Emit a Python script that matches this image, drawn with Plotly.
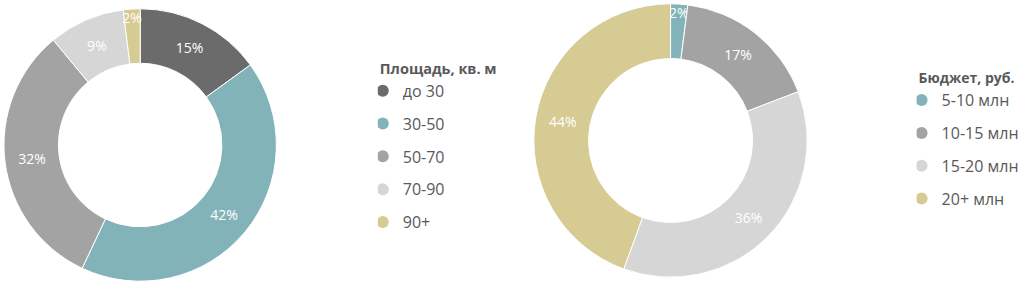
import plotly.graph_objects as go

area_labels = ["до 30", "30-50", "50-70", "70-90", "90+"]
area_values = [15, 42, 32, 9, 2]
area_colors = ["#6b6b6b", "#82b3b8", "#a3a3a3", "#d6d6d6", "#d5cb93"]

budget_labels = ["5-10 млн", "10-15 млн", "15-20 млн", "20+ млн"]
budget_values = [2, 17, 36, 44]
budget_colors = ["#82b3b8", "#a3a3a3", "#d6d6d6", "#d5cb93"]

W, H = 1024, 286
fig = go.Figure()

def pie(labels, values, colors, dom_x, dom_y):
    fig.add_trace(go.Pie(
        labels=labels, values=values, text=[f"{v}%" for v in values],
        texttemplate="%{text}", textposition="inside",
        insidetextorientation="horizontal",
        textfont=dict(family="Open Sans", size=14, color="white"),
        marker=dict(colors=colors, line=dict(color="white", width=1)),
        hole=0.6, sort=False, direction="clockwise", rotation=0,
        domain=dict(x=dom_x, y=dom_y), showlegend=False, hoverinfo="label+value",
    ))

pie(area_labels, area_values, area_colors, [4 / W, 278 / W], [4 / H, 278 / H])
pie(budget_labels, budget_values, budget_colors, [537 / W, 812 / W], [8 / H, 283 / H])

for i, (lab, col) in enumerate(zip(area_labels, area_colors)):
    fig.add_trace(go.Scatter(x=[None], y=[None], mode="markers", name=lab,
                             marker=dict(color=col, size=12, symbol="circle"),
                             legend="legend", legendgroup=f"a{i}"))
for i, (lab, col) in enumerate(zip(budget_labels, budget_colors)):
    fig.add_trace(go.Scatter(x=[None], y=[None], mode="markers", name=lab,
                             marker=dict(color=col, size=12, symbol="circle"),
                             legend="legend2", legendgroup=f"b{i}"))

leg_common = dict(
    xanchor="left", yanchor="top", traceorder="grouped", tracegroupgap=9,
    font=dict(family="Open Sans", size=16, color="#595959"),
    bgcolor="rgba(0,0,0,0)", itemwidth=30, indentation=-15,
)
title_font = dict(family="Open Sans", size=14.5, color="#595959")
fig.update_layout(
    width=W, height=H, margin=dict(l=0, r=0, t=0, b=0),
    paper_bgcolor="white", plot_bgcolor="white",
    uniformtext=dict(minsize=14, mode="show"),
    xaxis=dict(visible=False), yaxis=dict(visible=False),
    legend=dict(x=380 / W, y=1 - 55 / H,
                title=dict(text="<b>Площадь, кв. м</b>", font=title_font, side="top"),
                **leg_common),
    legend2=dict(x=922 / W, y=1 - 65 / H,
                 title=dict(text="<b>Бюджет, руб.</b>", font=dict(family="Open Sans", size=14, color="#595959"), side="top"),
                 **leg_common),
)
fig.write_html("out.html")
